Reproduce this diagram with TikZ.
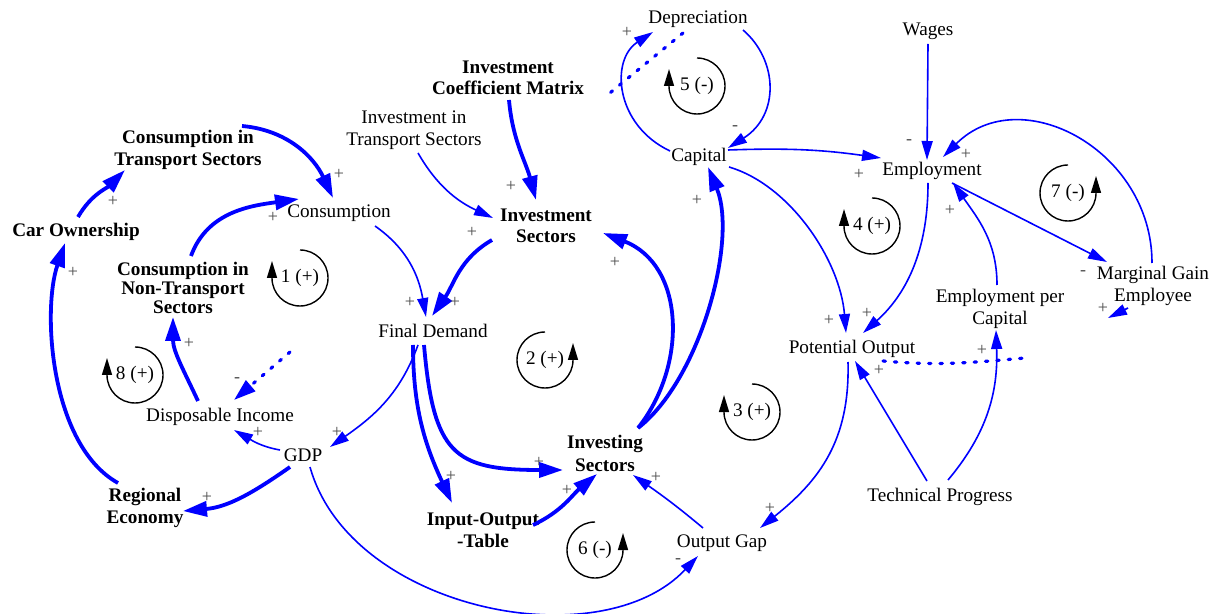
\documentclass[tikz,border=0pt]{standalone}
\usepackage{fontspec}
\setmainfont{Liberation Serif}
\usetikzlibrary{arrows.meta}

\begin{document}
\begin{tikzpicture}[x=0.5pt, y=0.5pt]
    \tikzstyle{var}=[inner sep=1pt, align=center, font=\fontsize{9.6}{10.8}\selectfont]
    \tikzstyle{key var}=[var, font=\fontsize{9.6}{10.8}\selectfont\bfseries]
    \tikzstyle{link}=[draw=blue, line width=0.8pt, -{Triangle[length=9.5pt,width=5.5pt]}]
    \tikzstyle{strong link}=[draw=blue, line width=1.9pt, -{Triangle[length=12pt,width=7.5pt]}]
    \tikzstyle{broken link}=[draw=blue, line width=1.6pt, line cap=round, dash pattern=on 1.2pt off 4.5pt]
    \tikzstyle{sign}=[inner sep=0pt, text=black!70, font=\fontsize{9}{9}\selectfont]
    \tikzstyle{loop}=[draw=black, line width=0.7pt, -{Triangle[length=8.5pt,width=5pt]}]

    \useasboundingbox (0,0) rectangle (1220,-614);

    % Variables of the model
    \node[key var] (ctrans) at (188,-150) {Consumption in\\Transport Sectors};
    \node[key var] (carown) at (76,-232) {Car Ownership};
    \node[var] (cons) at (339,-213) {Consumption};
    \node[key var, font=\fontsize{9.6}{8.3}\selectfont\bfseries] (cnon) at (183,-288) {Consumption in\\Non-Transport\\Sectors};
    \node[key var] (icm) at (508,-78) {Investment\\Coefficient Matrix};
    \node[var] (itrans) at (414,-130) {Investment in\\Transport Sectors};
    \node[key var] (isec) at (546,-226) {Investment\\Sectors};
    \node[var] (dep) at (698,-19) {Depreciation};
    \node[var] (cap) at (699,-157) {Capital};
    \node[var] (wages) at (928,-31) {Wages};
    \node[var] (emp) at (932,-171) {Employment};
    \node[var] (fd) at (433,-331) {Final Demand};
    \node[var] (po) at (852,-349) {Potential Output};
    \node[var] (epc) at (1000,-309) {Employment per\\Capital};
    \node[var] (mge) at (1153,-286) {Marginal Gain\\Employee};
    \node[var] (di) at (220,-417) {Disposable Income};
    \node[var] (gdp) at (303,-455) {GDP};
    \node[key var] (reg) at (145,-508) {Regional\\Economy};
    \node[key var, font=\fontsize{9.6}{11.5}\selectfont\bfseries] (invg) at (605,-453) {Investing\\Sectors};
    \node[key var] (iot) at (483,-530) {Input-Output\\-Table};
    \node[var] (og) at (722,-543) {Output Gap};
    \node[var] (tp) at (940,-497) {Technical Progress};

    % Free ends of the broken links
    \coordinate (di-in) at (290,-352);
    \coordinate (dep-out) at (605,-97);
    \coordinate (po-out) at (1025,-358);
    \coordinate (mge-tip) at (1108,-318);

    % Consumption side
    \draw[strong link] ([shift={(54,24)}]ctrans.center) to[out=-5,in=115] ([shift={(-6,15)}]cons.center);
    \draw[strong link] ([shift={(2,15)}]carown.center) to[out=60,in=-135] ([shift={(-63,-20)}]ctrans.center);
    \draw[strong link] ([shift={(-27,25)}]reg.center) .. controls (50,-445) and (42,-310) .. ([shift={(-11,-11)}]carown.center);
    \draw[strong link] ([shift={(-13,-12)}]gdp.center) to[out=-145,in=5] ([shift={(38,-3)}]reg.center);
    \draw[link] ([shift={(-23,5)}]gdp.center) to[out=170,in=-30] ([shift={(14,-13)}]di.center);
    \draw[strong link] ([shift={(-22,16)}]di.center) to[out=115,in=-90] ([shift={(-10,-29)}]cnon.center);
    \draw[strong link] ([shift={(8,32)}]cnon.center) to[out=70,in=188] ([shift={(-40,14)}]cons.center);
    \draw[broken link, -{Triangle[length=11pt,width=7pt]}] (di-in) -- ([shift={(14,17)}]di.center);
    \draw[link] ([shift={(36,-13)}]cons.center) to[out=-35,in=100] ([shift={(-7,14)}]fd.center);

    % Investment side
    \draw[strong link] ([shift={(-54,-14)}]isec.center) to[out=-150,in=55] ([shift={(-1,15)}]fd.center);
    \draw[link] ([shift={(4,-23)}]itrans.center) to[out=-60,in=155] ([shift={(-53,8)}]isec.center);
    \draw[strong link] ([shift={(1,-22)}]icm.center) to[out=-85,in=105] ([shift={(-10,26)}]isec.center);
    \draw[strong link] ([shift={(33,25)}]invg.center) .. controls (688,-365) and (685,-265) .. ([shift={(57,-7)}]isec.center);
    \draw[strong link] ([shift={(33,25)}]invg.center) .. controls (700,-380) and (738,-240) .. ([shift={(9,-10)}]cap.center);
    \draw[link] ([shift={(-15,-14)}]fd.center) to[out=-110,in=35] ([shift={(27,8)}]gdp.center);
    \draw[strong link] ([shift={(-20,-14)}]fd.center) to[out=-90,in=115] ([shift={(-31,27)}]iot.center);
    \draw[strong link] ([shift={(-9,-14)}]fd.center) to[out=-85,in=180,looseness=1.5] ([shift={(-42,-17)}]invg.center);
    \draw[strong link] ([shift={(50,5)}]iot.center) to[out=25,in=-140] ([shift={(-8,-21)}]invg.center);
    \draw[link] ([shift={(-19,15)}]og.center) to[out=140,in=-35] ([shift={(28,-22)}]invg.center);
    \draw[link] ([shift={(7,-12)}]gdp.center) .. controls (350,-610) and (600,-660) .. ([shift={(-24,-13)}]og.center);

    % Capital and labour side
    \draw[link] ([shift={(-29,6)}]cap.center) .. controls (615,-125) and (610,-60) .. ([shift={(-45,-13)}]dep.center);
    \draw[link] ([shift={(45,-11)}]dep.center) .. controls (778,-60) and (780,-115) .. ([shift={(29,9)}]cap.center);
    \draw[broken link] ([shift={(-15,-14)}]dep.center) -- (dep-out);
    \draw[link] ([shift={(29,7)}]cap.center) to[out=2,in=172] ([shift={(-51,13)}]emp.center);
    \draw[link] ([shift={(0,-13)}]wages.center) -- ([shift={(-5,11)}]emp.center);
    \draw[link] ([shift={(-1,23)}]mge.center) .. controls (1152,-150) and (1020,-80) .. ([shift={(11,14)}]emp.center);
    \draw[link] ([shift={(20,-12)}]emp.center) -- ([shift={(-46,24)}]mge.center);
    \draw[link] ([shift={(-3,24)}]epc.center) to[out=90,in=-55] ([shift={(21,-12)}]emp.center);
    \draw[link] ([shift={(-4,-12)}]emp.center) .. controls (928,-260) and (900,-300) .. ([shift={(11,16)}]po.center);
    \draw[link] ([shift={(30,-10)}]cap.center) .. controls (790,-185) and (840,-260) .. ([shift={(-6,16)}]po.center);
    \draw[link] ([shift={(-4,-13)}]po.center) .. controls (850,-440) and (820,-480) .. ([shift={(38,15)}]og.center);
    \draw[link] ([shift={(-13,16)}]tp.center) -- ([shift={(3,-12)}]po.center);
    \draw[link] ([shift={(8,17)}]tp.center) to[out=50,in=-88] ([shift={(-4,-21)}]epc.center);
    \draw[broken link] ([shift={(31,-12)}]po.center) to[out=-5,in=185] (po-out);
    \draw[link] ([shift={(-25,-22)}]mge.center) -- (mge-tip);

    % Polarity of the links
    \foreach \x/\y/\s [count=\i] in {339/174/+, 113/201/+, 73/272/+, 273/217/+, 189/343/+,
        237/380/-, 258/432/+, 207/497/+, 337/432/+, 410/302/+, 455/302/+, 472/232/+,
        511/186/+, 615/262/+, 697/200/+, 451/476/+, 539/462/+, 567/490/+, 656/477/+,
        678/561/-, 627/32/+, 735/128/-, 859/174/+, 909/142/-, 966/154/+, 950/210/+,
        1083/273/-, 1103/308/+, 867/313/+, 829/320/+, 770/508/+, 879/370/+, 982/350/+}
        \node[sign] (sg-\i) at (\x,-\y) {\s};

    % Feedback loops turning to the left
    \foreach \n/\x/\y/\s in {1/300/278/+, 8/135/375/+, 3/752/412/+, 5/697/86/-, 4/872/226/+}
    {
        \node[var] (loop-\n) at (\x,-\y) {\n\ (\s)};
        \draw[loop] ([shift={(90:28)}]loop-\n.center) arc[start angle=90, end angle=-180, radius=28] -- ++(0,17);
    }

    % Feedback loops turning to the right
    \foreach \n/\x/\y/\s in {2/545/360/+, 6/595/550/-, 7/1068/193/-}
    {
        \node[var] (loop-\n) at (\x,-\y) {\n\ (\s)};
        \draw[loop] ([shift={(90:28)}]loop-\n.center) arc[start angle=90, end angle=360, radius=28] -- ++(0,17);
    }

\end{tikzpicture}
\end{document}
